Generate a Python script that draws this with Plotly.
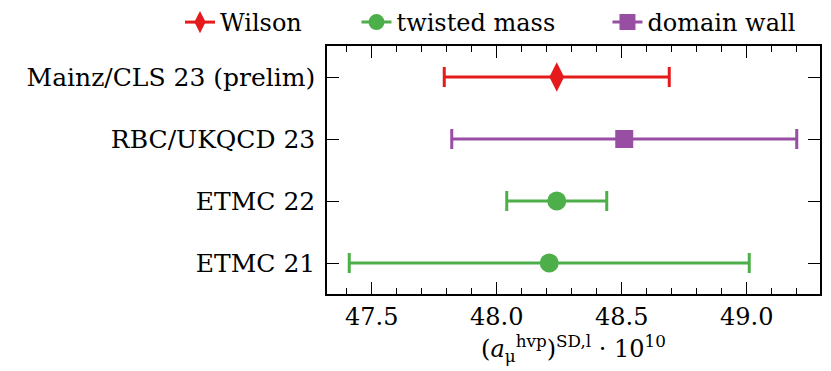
import plotly.graph_objects as go

labels = ["ETMC 21", "ETMC 22", "RBC/UKQCD 23", "Mainz/CLS 23 (prelim)"]
values = [48.21, 48.24, 48.51, 48.24]
errors = [0.80, 0.20, 0.69, 0.45]
groups = ["twisted mass", "twisted mass", "domain wall", "Wilson"]

styles = {
    "Wilson": dict(color="#e41a1c", symbol="diamond-tall", size=21),
    "twisted mass": dict(color="#4daf4a", symbol="circle", size=19),
    "domain wall": dict(color="#984ea3", symbol="square", size=18),
}
legend_order = ["Wilson", "twisted mass", "domain wall"]
legend_ids = ["legend", "legend2", "legend3"]
legend_x = [0.2166, 0.429, 0.731]
positions = list(range(len(labels)))

font = "DejaVu Serif"
fig = go.Figure()

for g, lid in zip(legend_order, legend_ids):
    st = styles[g]
    xs = [v for v, gg in zip(values, groups) if gg == g]
    ys = [p for p, gg in zip(positions, groups) if gg == g]
    es = [e for e, gg in zip(errors, groups) if gg == g]
    fig.add_trace(go.Scatter(
        x=xs, y=ys, mode="markers", showlegend=False,
        marker=dict(color=st["color"], symbol=st["symbol"], size=st["size"], line=dict(width=0)),
        error_x=dict(type="data", array=es, color=st["color"], thickness=3, width=10),
    ))
    fig.add_trace(go.Scatter(
        x=[None], y=[None], mode="lines+markers", name=g, legend=lid,
        marker=dict(color=st["color"], symbol=st["symbol"], size=st["size"] - 2),
        line=dict(color=st["color"], width=3),
    ))

legend_common = dict(orientation="h", xanchor="left", y=1.0, yanchor="top",
                     xref="container", yref="container",
                     font=dict(size=24), bgcolor="rgba(0,0,0,0)", itemclick=False)

fig.update_layout(
    width=831, height=371,
    margin=dict(l=327, r=11, t=46, b=77, autoexpand=False),
    paper_bgcolor="white", plot_bgcolor="white",
    font=dict(family=font, size=24, color="black"),
    legend=dict(x=legend_x[0], **legend_common),
    legend2=dict(x=legend_x[1], **legend_common),
    legend3=dict(x=legend_x[2], **legend_common),
    xaxis=dict(
        range=[47.321, 49.293], tickvals=[47.5, 48.0, 48.5, 49.0],
        ticktext=["47.5", "48.0", "48.5", "49.0"], tickangle=0,
        ticks="inside", ticklen=12, tickwidth=1, tickcolor="black",
        minor=dict(dtick=0.1, tick0=47.5, ticks="inside", ticklen=6, tickwidth=1, tickcolor="black"),
        showline=True, linecolor="black", linewidth=1.5, mirror="ticks",
        showgrid=False, zeroline=False,
        title=dict(text="(<i>a</i><sub>μ</sub><sup>hvp</sup>)<sup>SD,l</sup> · 10<sup>10</sup>",
                   font=dict(size=24), standoff=2),
    ),
    yaxis=dict(
        range=[-0.5, 3.5], tickvals=positions, ticktext=labels,
        tickfont=dict(size=25),
        ticks="inside", ticklen=12, tickwidth=1, tickcolor="black",
        showline=True, linecolor="black", linewidth=1.5, mirror="ticks",
        showgrid=False, zeroline=False, ticklabelstandoff=5,
    ),
)

fig.write_html("out.html", config={"displayModeBar": False},
               post_script="document.body.style.margin='0';")
